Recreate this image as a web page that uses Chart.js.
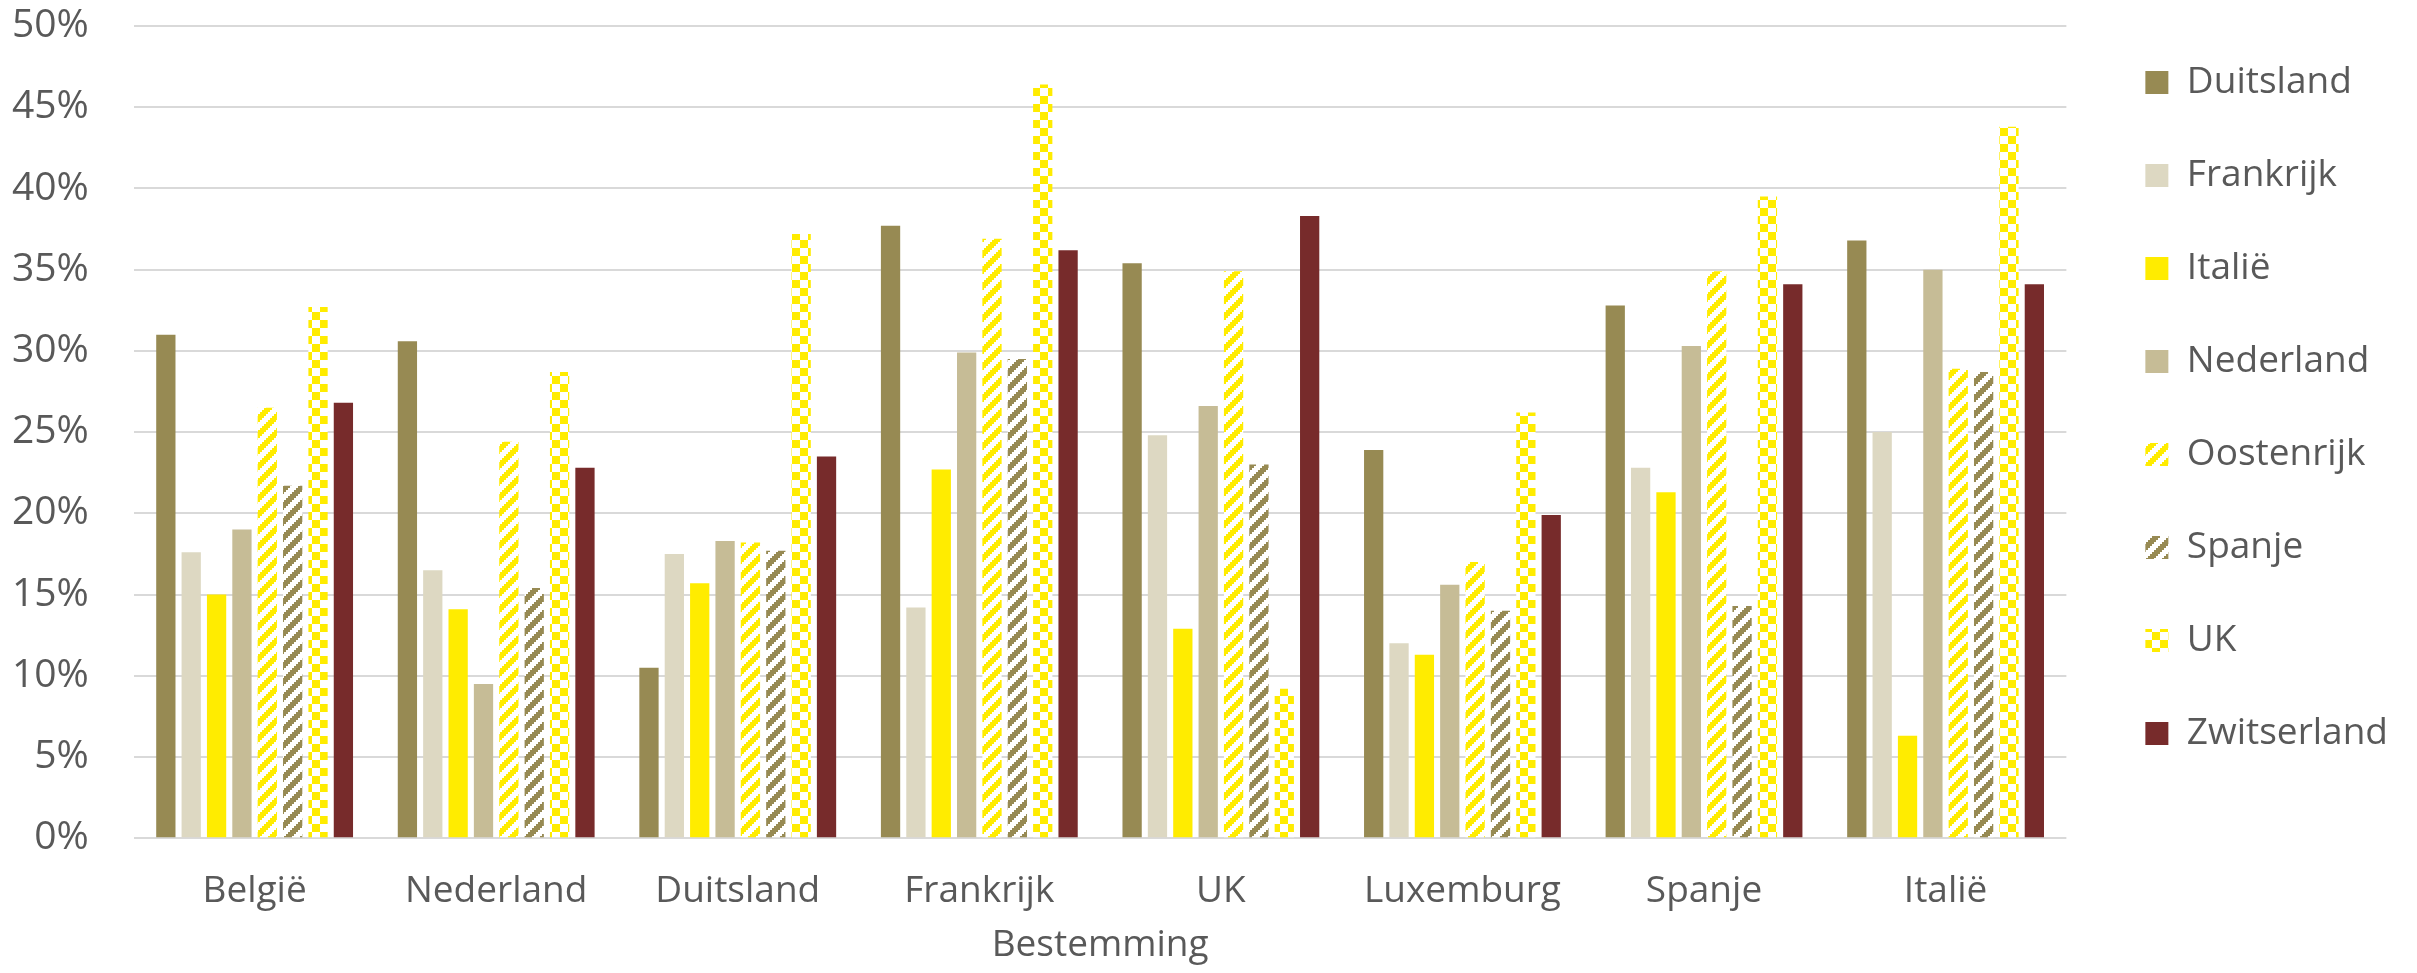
<!DOCTYPE html>
<html>
<head>
<meta charset="utf-8">
<script src="https://cdn.jsdelivr.net/npm/chart.js@4.4.1/dist/chart.umd.min.js"></script>
<style>
  html, body { margin: 0; padding: 0; background: #ffffff; overflow: hidden; }
  canvas { display: block; }
</style>
</head>
<body>
<canvas id="c" width="2417" height="973" style="width:2417px;height:973px"></canvas>
<script>
// Categories (destination)
const categories = ['België', 'Nederland', 'Duitsland', 'Frankrijk', 'UK', 'Luxemburg', 'Spanje', 'Italië'];

// Series values (percent), one array per origin country
const duitsland   = [31.0, 30.6, 10.5, 37.7, 35.4, 23.9, 32.8, 36.8];
const frankrijk   = [17.6, 16.5, 17.5, 14.2, 24.8, 12.0, 22.8, 25.0];
const italie      = [15.0, 14.1, 15.7, 22.7, 12.9, 11.3, 21.3, 6.3];
const nederland   = [19.0, 9.5, 18.3, 29.9, 26.6, 15.6, 30.3, 35.0];
const oostenrijk  = [26.5, 24.4, 18.2, 36.9, 34.9, 17.0, 34.9, 28.9];
const spanje      = [21.7, 15.4, 17.7, 29.5, 23.0, 14.0, 14.3, 28.7];
const uk          = [32.7, 28.7, 37.2, 46.4, 9.2, 26.2, 39.5, 43.8];
const zwitserland = [26.8, 22.8, 23.5, 36.2, 38.3, 19.9, 34.1, 34.1];

const seriesNames = ['Duitsland', 'Frankrijk', 'Italië', 'Nederland', 'Oostenrijk', 'Spanje', 'UK', 'Zwitserland'];

// Y-axis tick settings
const yMin = 0, yMax = 50, yStep = 5;
const axisTitle = 'Bestemming';

const canvas = document.getElementById('c');
const ctx = canvas.getContext('2d');

function makeTile(painter) {
  const t = document.createElement('canvas');
  t.width = 16; t.height = 16;
  const g = t.getContext('2d');
  g.fillStyle = '#ffffff';
  g.fillRect(0, 0, 16, 16);
  painter(g);
  return ctx.createPattern(t, 'repeat');
}
function stripes(color) {
  return makeTile(g => {
    g.fillStyle = color;
    for (let py = 0; py < 8; py++)
      for (let px = 0; px < 8; px++)
        if (((px + py) % 8) < 4) g.fillRect(px * 2, py * 2, 2, 2);
  });
}
function checker(color) {
  return makeTile(g => {
    g.fillStyle = color;
    for (let py = 0; py < 8; py++)
      for (let px = 0; px < 8; px++)
        if (((Math.floor(px / 4) + Math.floor(py / 4)) % 2) === 0) g.fillRect(px * 2, py * 2, 2, 2);
  });
}

const OLIVE = '#978A53', YELLOW = '#FFEC00';
const fills = [
  OLIVE,
  '#DDD8C2',
  YELLOW,
  '#C6BC96',
  stripes(YELLOW),
  stripes(OLIVE),
  checker(YELLOW),
  '#772B2B'
];
const values = [duitsland, frankrijk, italie, nederland, oostenrijk, spanje, uk, zwitserland];

const FONT = "'Open Sans', 'DejaVu Sans', sans-serif";
const TEXT = '#595959';
const Y_PAD = 45, X_PAD = 31;

const legendShift = {
  id: 'legendShift',
  afterLayout(chart) {
    const l = chart.legend;
    if (!l) return;
    const dx = 23, dy = -18;
    l.left += dx; l.right += dx;
    l.top += dy; l.bottom += dy;
  }
};

new Chart(canvas, {
  type: 'bar',
  data: {
    labels: categories,
    datasets: seriesNames.map((name, i) => ({
      label: name,
      data: values[i],
      backgroundColor: fills[i],
      borderWidth: 0,
      categoryPercentage: 0.84,
      barPercentage: 0.76
    }))
  },
  options: {
    responsive: false,
    maintainAspectRatio: false,
    animation: false,
    devicePixelRatio: 1,
    layout: { padding: { left: 12, right: 42, top: 26, bottom: 0 } },
    plugins: {
      legend: {
        position: 'right',
        align: 'start',
        labels: {
          font: { family: FONT, size: 37 },
          color: TEXT,
          boxWidth: 23,
          boxHeight: 23,
          padding: 56
        }
      },
      tooltip: { enabled: false }
    },
    scales: {
      x: {
        grid: { display: false, drawTicks: false },
        border: { display: false },
        ticks: {
          font: { family: FONT, size: 37 },
          color: TEXT,
          padding: X_PAD,
          maxRotation: 0,
          autoSkip: false
        },
        title: {
          display: true,
          text: axisTitle,
          font: { family: FONT, size: 37 },
          color: TEXT,
          padding: { top: 10, bottom: 5 }
        },
        afterFit(scale) { scale.height -= X_PAD; }
      },
      y: {
        min: yMin,
        max: yMax,
        grid: { color: '#D9D9D9', lineWidth: 2, drawTicks: false },
        border: { display: false },
        ticks: {
          stepSize: yStep,
          font: { family: FONT, size: 39 },
          color: TEXT,
          padding: Y_PAD,
          callback: v => v + '%'
        },
        afterFit(scale) {
          scale.width -= Y_PAD;
          scale.paddingTop = 0;
          scale.paddingBottom = 0;
        }
      }
    }
  },
  plugins: [legendShift]
});
</script>
</body>
</html>
